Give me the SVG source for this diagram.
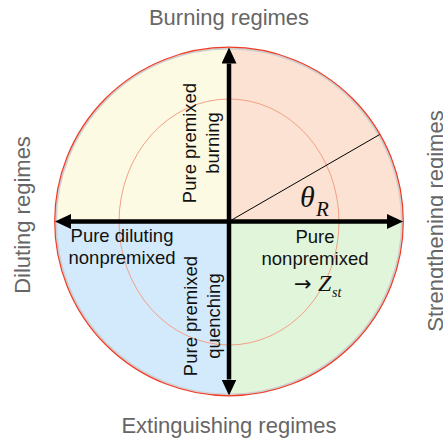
<svg xmlns="http://www.w3.org/2000/svg" width="443" height="442" viewBox="0 0 443 442">
<style>
.lbl{font-family:"Liberation Sans",Arial,Helvetica,sans-serif;font-size:22px;fill:#666;text-anchor:middle}
.in{font-family:"Liberation Sans",Arial,Helvetica,sans-serif;font-size:18.5px;fill:#111;text-anchor:middle}
.math{font-family:"Liberation Serif","Times New Roman",serif;font-style:italic;fill:#111}
.axis{stroke:#000;stroke-width:4.5;fill:none}
</style>
<defs>
<marker id="ah" markerUnits="userSpaceOnUse" markerWidth="16" markerHeight="15" refX="0" refY="7.5" orient="auto-start-reverse" viewBox="0 0 16 15">
<path d="M0,0 L16,7.5 L0,15 Z" fill="#000"/>
</marker>
</defs>
<g id="disc">
<path d="M229,221.5 L55,221.5 A174,174 0 0 1 229,47.5 Z" fill="#fdfae3"/>
<path d="M229,221.5 L229,47.5 A174,174 0 0 1 403,221.5 Z" fill="#fbe2d3"/>
<path d="M229,221.5 L403,221.5 A174,174 0 0 1 229,395.5 Z" fill="#e1f5da"/>
<path d="M229,221.5 L229,395.5 A174,174 0 0 1 55,221.5 Z" fill="#d3eafc"/>
<circle cx="229" cy="221.5" r="173" fill="none" stroke="#cfcfcf" stroke-width="2"/>
<circle cx="229" cy="221.5" r="174.3" fill="none" stroke="#f03a24" stroke-width="1.2"/>
<ellipse cx="229" cy="222" rx="110" ry="123" fill="none" stroke="#f4a086" stroke-width="1"/>
<line x1="229" y1="221.5" x2="379.7" y2="134.5" stroke="#000" stroke-width="1"/>
</g>
<g id="connectors">
<line class="axis" x1="229" y1="379.5" x2="229" y2="63.5" marker-start="url(#ah)" marker-end="url(#ah)"/>
<line class="axis" x1="71" y1="221.5" x2="387" y2="221.5" marker-start="url(#ah)" marker-end="url(#ah)"/>
</g>
<g id="labels">
<text class="lbl" x="229" y="25">Burning regimes</text>
<text class="lbl" x="229" y="433">Extinguishing regimes</text>
<text class="lbl" transform="translate(30,215) rotate(-90)">Diluting regimes</text>
<text class="lbl" transform="translate(443,221) rotate(-90)">Strengthening regimes</text>
</g>
<g id="premixed-burning">
<text class="in" transform="translate(196,143) rotate(-90)"><tspan x="0" y="0">Pure premixed</tspan><tspan x="0" y="23">burning</tspan></text>
</g>
<g id="premixed-quenching">
<text class="in" transform="translate(197,316) rotate(-90)"><tspan x="0" y="0">Pure premixed</tspan><tspan x="0" y="23">quenching</tspan></text>
</g>
<g id="diluting-nonpremixed">
<text class="in" x="122" y="242">Pure diluting</text>
<text class="in" x="122" y="264">nonpremixed</text>
</g>
<g id="pure-nonpremixed">
<text class="in" x="315" y="243">Pure</text>
<text class="in" x="315" y="265">nonpremixed</text>
<text x="294" y="291" font-family="'DejaVu Sans',sans-serif" font-size="21" fill="#111">→</text>
<text class="math" x="318" y="291" font-size="24">Z</text>
<text class="math" x="332" y="297" font-size="14">st</text>
</g>
<g id="theta">
<text class="math" x="300" y="207" font-size="30">θ</text>
<text class="math" x="316" y="216" font-size="21">R</text>
</g>
</svg>
